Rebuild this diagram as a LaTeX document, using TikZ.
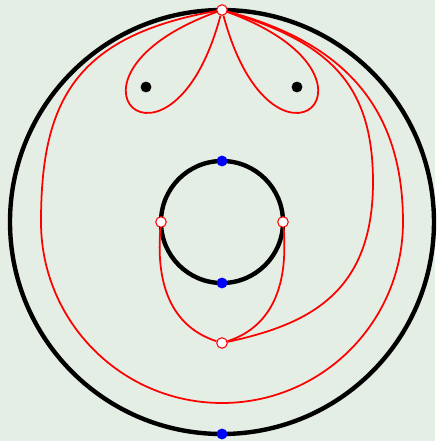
\documentclass[tikz,border=0pt]{standalone}
\definecolor{paper}{RGB}{228,238,228}

\begin{document}
\begin{tikzpicture}[
  x=0.02cm, y=0.02cm,
  rim/.style={draw=black,line width=2.5pt},
  redcurve/.style={draw=red,line width=1pt},
  marked/.style={circle,draw=red,fill=white,line width=0.6pt,
                 inner sep=0pt,minimum size=6pt},
  bluedot/.style={circle,fill=blue,inner sep=0pt,minimum size=6.2pt},
  blackdot/.style={circle,fill=black,inner sep=0pt,minimum size=6.2pt}
]
\fill[paper] (-222,-219) rectangle (213,222);
\draw[rim] (0,0) circle[radius=212];
\draw[rim] (0,0) circle[radius=61];
% marked points and punctures
\node[marked] (T) at (0,212) {};
\node[marked] (L) at (-61,0) {};
\node[marked] (R) at (61,0) {};
\node[marked] (B) at (0,-121) {};
\node[bluedot] (innerN) at (0,61) {};
\node[bluedot] (innerS) at (0,-61) {};
\node[bluedot] (outerS) at (0,-212) {};
\node[blackdot] (P1) at (-76,135) {};
\node[blackdot] (P2) at (75,135) {};
\coordinate (W) at (-181,0);
\coordinate (E2) at (151,40);
% arcs
\draw[redcurve] (T) .. controls +(200:197) and +(255:197) .. (T);
\draw[redcurve] (T) .. controls +(-20:197) and +(-75:197) .. (T);
\draw[redcurve] (T) .. controls +(190:150) and +(90:120) .. (W)
  arc[start angle=180,end angle=360,radius=181]
  .. controls +(90:120) and +(-15:120) .. (T);
\draw[redcurve] (T) .. controls +(-17:110) and +(90:100) .. (E2)
  .. controls +(-90:110) and +(12:90) .. (B);
\draw[redcurve] (L) .. controls +(-95:60) and +(162:55) .. (B);
\draw[redcurve] (R) .. controls +(-85:60) and +(18:55) .. (B);
\end{tikzpicture}
\end{document}
